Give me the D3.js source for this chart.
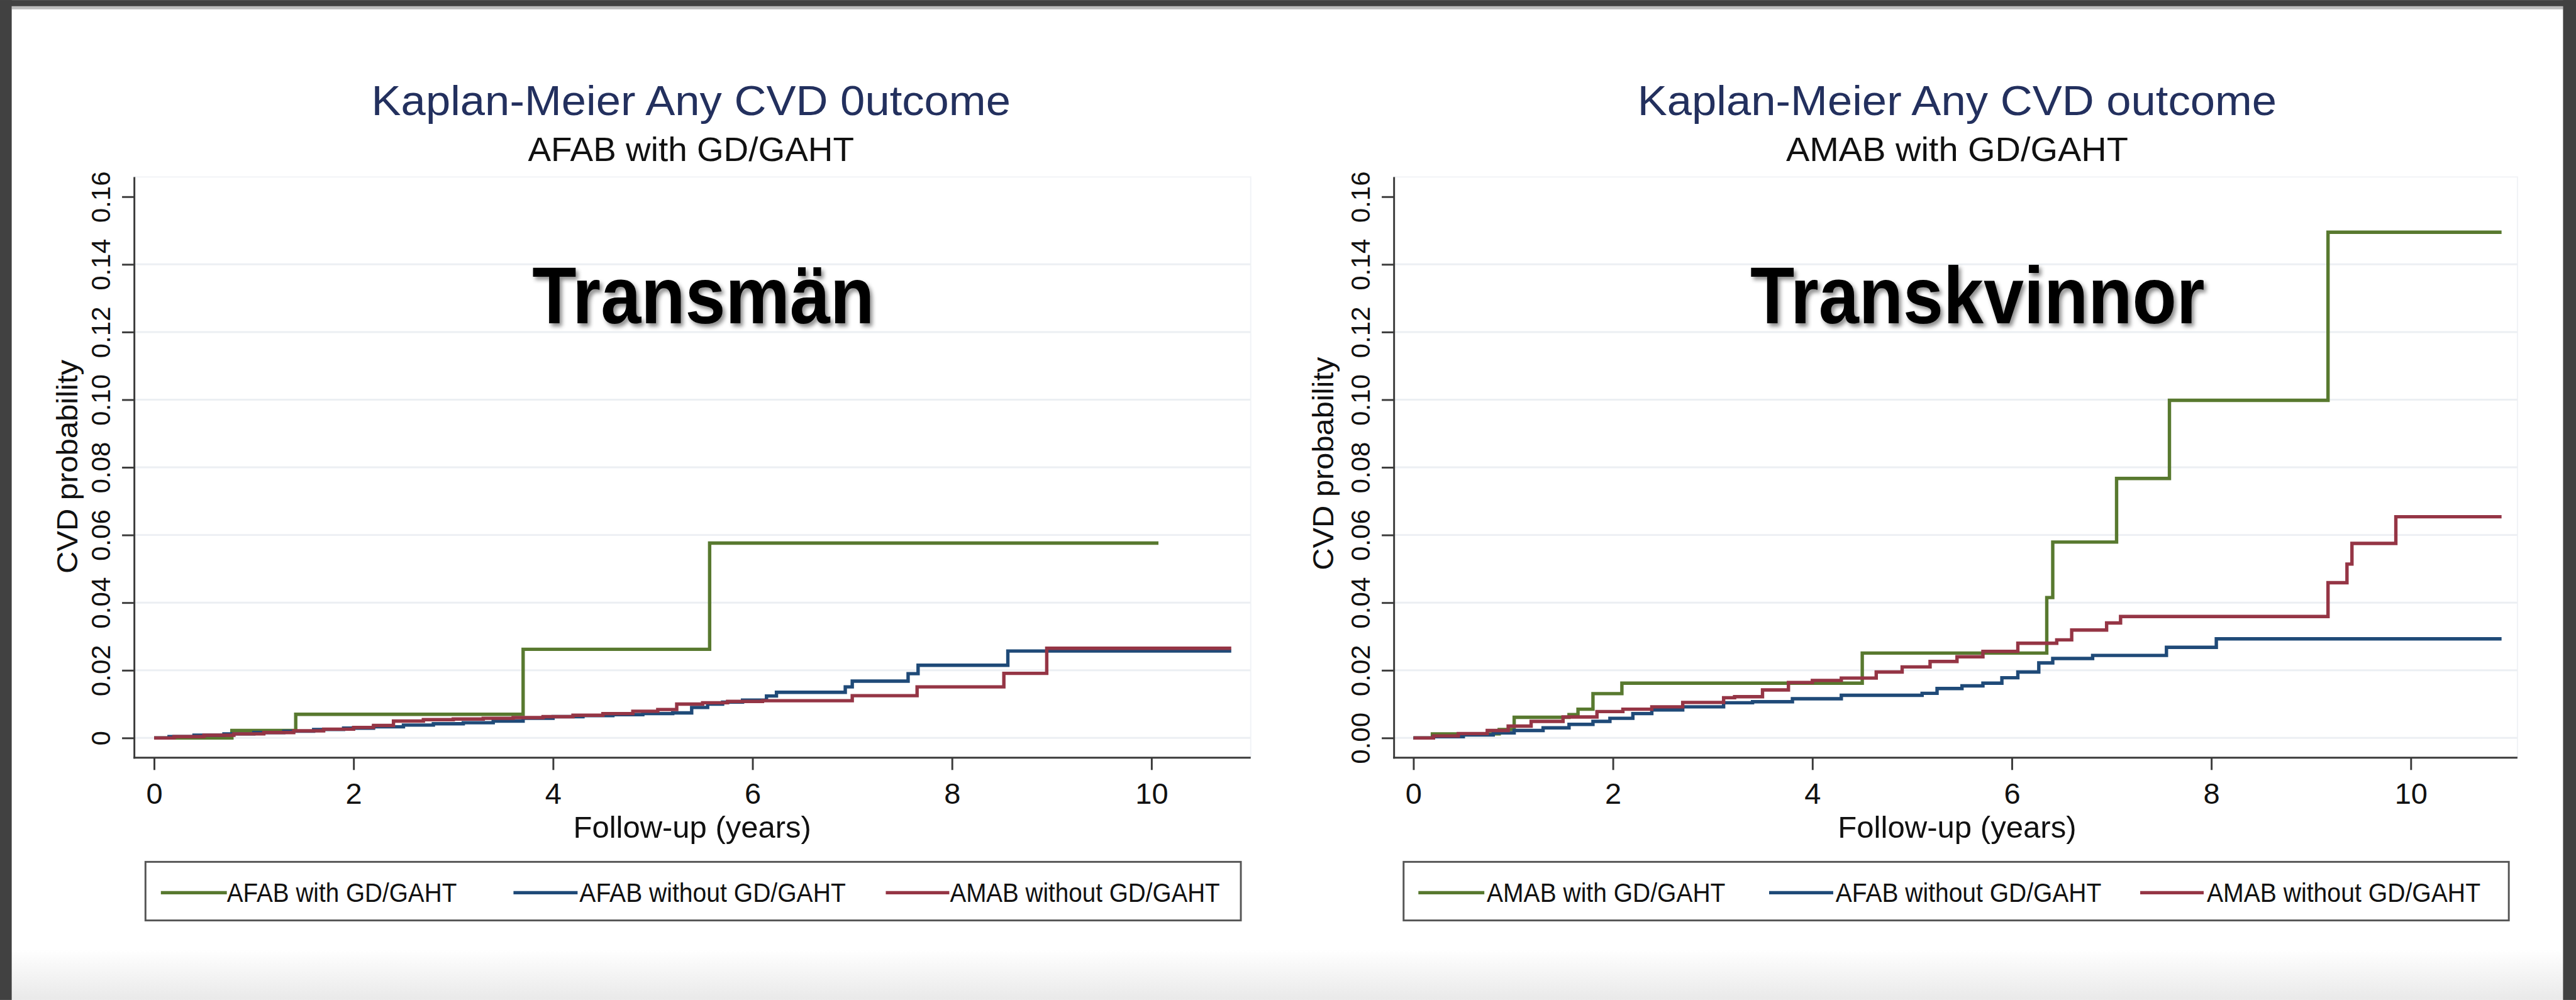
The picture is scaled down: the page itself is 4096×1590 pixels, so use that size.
<!DOCTYPE html>
<html>
<head>
<meta charset="utf-8">
<script src="https://cdn.jsdelivr.net/npm/d3@7"></script>
<style>
  html, body { margin: 0; padding: 0; background: #fff; overflow: hidden; }
  svg { display: block; }
  text { font-family: "Liberation Sans", Arial, Helvetica, sans-serif; }
</style>
</head>
<body>
<svg id="chart"></svg>
<script>
// ---------- data ----------
const yearTicks = [0, 2, 4, 6, 8, 10];
const probTicks = [0, 0.02, 0.04, 0.06, 0.08, 0.10, 0.12, 0.14, 0.16];
const probLabelsLeft  = ["0", "0.02", "0.04", "0.06", "0.08", "0.10", "0.12", "0.14", "0.16"];
const probLabelsRight = ["0.00", "0.02", "0.04", "0.06", "0.08", "0.10", "0.12", "0.14", "0.16"];

const legendLeft  = ["AFAB with GD/GAHT", "AFAB without GD/GAHT", "AMAB without GD/GAHT"];
const legendRight = ["AMAB with GD/GAHT", "AFAB without GD/GAHT", "AMAB without GD/GAHT"];
const seriesColors = ["#58792f", "#1f4a78", "#953545"];

// Transmän panel: cumulative CVD probability (Kaplan-Meier failure) by follow-up years
const afabGahtT = [0, 0.78, 1.42, 3.70, 5.57, 10.07];
const afabGahtV = [0, 0.0022, 0.0070, 0.0262, 0.0576, 0.0576];

const afabRefLT = [0, 0.15, 0.4, 0.7, 1.0, 1.3, 1.6, 1.9, 2.2, 2.5, 2.8, 3.1, 3.4, 3.7, 4.0, 4.3, 4.6, 4.9, 5.2, 5.39, 5.55, 5.7, 5.9, 6.14, 6.24, 6.93, 7.0, 7.56, 7.66, 8.56, 10.8];
const afabRefLV = [0, 0.0004, 0.0008, 0.0012, 0.0016, 0.0020, 0.0025, 0.0029, 0.0033, 0.0038, 0.0042, 0.0045, 0.0050, 0.0058, 0.0063, 0.0066, 0.0069, 0.0072, 0.0074, 0.0090, 0.0100, 0.0106, 0.0112, 0.0124, 0.0135, 0.0151, 0.0168, 0.0190, 0.0215, 0.0257, 0.0257];

const amabRefLT = [0, 0.2, 0.5, 0.8, 1.1, 1.4, 1.7, 2.0, 2.2, 2.4, 2.7, 3.0, 3.3, 3.6, 3.9, 4.2, 4.5, 4.8, 5.05, 5.24, 5.5, 5.75, 6.1, 7.0, 7.65, 8.52, 8.95, 10.8];
const amabRefLV = [0, 0.0004, 0.0008, 0.0012, 0.0016, 0.0021, 0.0026, 0.0031, 0.0037, 0.0050, 0.0054, 0.0056, 0.0058, 0.0060, 0.0063, 0.0067, 0.0072, 0.0079, 0.0084, 0.0100, 0.0104, 0.0108, 0.0110, 0.0125, 0.0151, 0.0191, 0.0265, 0.0265];

// Transkvinnor panel
const amabGahtT = [0, 0.19, 0.86, 1.01, 1.56, 1.65, 1.80, 2.09, 4.50, 6.35, 6.41, 7.05, 7.58, 9.17, 10.91];
const amabGahtV = [0, 0.0012, 0.0025, 0.0061, 0.0069, 0.0085, 0.0131, 0.0162, 0.0251, 0.0415, 0.0579, 0.0767, 0.0998, 0.1495, 0.1495];

const afabRefRT = [0, 0.2, 0.5, 0.8, 1.01, 1.3, 1.56, 1.8, 1.97, 2.2, 2.39, 2.7, 3.11, 3.4, 3.8, 4.29, 5.1, 5.25, 5.5, 5.71, 5.9, 6.06, 6.27, 6.41, 6.81, 7.55, 8.05, 10.91];
const afabRefRV = [0, 0.0004, 0.0009, 0.0015, 0.0022, 0.0030, 0.0040, 0.0049, 0.0058, 0.0072, 0.0083, 0.0092, 0.0104, 0.0107, 0.0116, 0.0126, 0.0132, 0.0146, 0.0154, 0.0162, 0.0178, 0.0195, 0.0222, 0.0235, 0.0244, 0.0268, 0.0293, 0.0293];

const amabRefRT = [0, 0.2, 0.45, 0.74, 0.95, 1.18, 1.5, 1.84, 2.1, 2.39, 2.7, 3.11, 3.22, 3.5, 3.76, 4.0, 4.29, 4.64, 4.9, 5.18, 5.45, 5.71, 6.06, 6.45, 6.6, 6.95, 7.09, 9.17, 9.36, 9.41, 9.85, 10.91];
const amabRefRV = [0, 0.0006, 0.0013, 0.0022, 0.0035, 0.0049, 0.0062, 0.0078, 0.0085, 0.0092, 0.0105, 0.0119, 0.0122, 0.0142, 0.0164, 0.0170, 0.0177, 0.0195, 0.0210, 0.0226, 0.0240, 0.0256, 0.0280, 0.0290, 0.0319, 0.0340, 0.0359, 0.0459, 0.0514, 0.0575, 0.0654, 0.0654];

// ---------- canvas ----------
const W = 4179, H = 1622;
const svg = d3.select("#chart")
  .attr("width", 4096).attr("height", 1590)
  .attr("viewBox", `0 0 ${W} ${H}`);

const defs = svg.append("defs");
const shadow = defs.append("filter").attr("id", "bigShadow")
  .attr("x", "-10%").attr("y", "-20%").attr("width", "130%").attr("height", "150%");
shadow.append("feDropShadow").attr("dx", 4).attr("dy", 5).attr("stdDeviation", 3)
  .attr("flood-color", "#000").attr("flood-opacity", 0.45);

const fade = defs.append("linearGradient").attr("id", "floor").attr("x1", 0).attr("y1", 0).attr("x2", 0).attr("y2", 1);
fade.append("stop").attr("offset", "0%").attr("stop-color", "#ffffff");
fade.append("stop").attr("offset", "100%").attr("stop-color", "#e9e9e9");

// page backdrop and frame
svg.append("rect").attr("width", W).attr("height", H).attr("fill", "#fff");
svg.append("rect").attr("x", 0).attr("y", 1540).attr("width", W).attr("height", H - 1540).attr("fill", "url(#floor)");
svg.append("rect").attr("x", 0).attr("y", 0).attr("width", W).attr("height", 10).attr("fill", "#414141");
svg.append("rect").attr("x", 19).attr("y", 10).attr("width", W - 40).attr("height", 5).attr("fill", "#bdbdbd");
svg.append("rect").attr("x", 0).attr("y", 0).attr("width", 19).attr("height", H).attr("fill", "#414141");
svg.append("rect").attr("x", W - 21).attr("y", 0).attr("width", 21).attr("height", H).attr("fill", "#414141");

// ---------- panels ----------
const panels = [
  {
    axisX: 218, x0: 250, x10: 1868, right: 2029,
    title: "Kaplan-Meier Any CVD 0utcome", titleCx: 1121, titleLen: 1037,
    subtitle: "AFAB with GD/GAHT", subLen: 529,
    big: "Transmän", bigCx: 1141, bigLen: 555,
    xlabCx: 1123, xlabLen: 386,
    ytitleBase: 125, ytitleCy: 757, ytitleLen: 347,
    probLabels: probLabelsLeft,
    series: [[afabGahtT, afabGahtV], [afabRefLT, afabRefLV], [amabRefLT, amabRefLV]],
    legendLabels: legendLeft,
    legendBox: [236, 2013],
    legendItems: [[261, 368, 368, 373], [833, 937, 940, 432], [1437, 1540, 1541, 438]]
  },
  {
    axisX: 2261.6, x0: 2293, x10: 3911, right: 4084,
    title: "Kaplan-Meier Any CVD outcome", titleCx: 3175, titleLen: 1037,
    subtitle: "AMAB with GD/GAHT", subLen: 555,
    big: "Transkvinnor", bigCx: 3208, bigLen: 737,
    xlabCx: 3175, xlabLen: 387,
    ytitleBase: 2163, ytitleCy: 752, ytitleLen: 346,
    probLabels: probLabelsRight,
    series: [[amabGahtT, amabGahtV], [afabRefRT, afabRefRV], [amabRefRT, amabRefRV]],
    legendLabels: legendRight,
    legendBox: [2277, 4070],
    legendItems: [[2301, 2408, 2412, 387], [2870, 2974, 2978, 431], [3472, 3575, 3580, 444]]
  }
];

const plotTop = 287, plotBottom = 1229;
const y = d3.scaleLinear().domain([0, 0.16]).range([1197, 319]);

panels.forEach(p => {
  const g = svg.append("g");
  const x = d3.scaleLinear().domain([0, 10]).range([p.x0, p.x10]);

  // plot region outline (very light) and grid
  g.append("rect").attr("x", p.axisX).attr("y", plotTop)
    .attr("width", p.right - p.axisX).attr("height", plotBottom - plotTop)
    .attr("fill", "none").attr("stroke", "#f1f3f6").attr("stroke-width", 2);
  g.append("g").selectAll("line").data(probTicks.filter(v => v < 0.16)).join("line")
    .attr("x1", p.axisX).attr("x2", p.right)
    .attr("y1", d => y(d)).attr("y2", d => y(d))
    .attr("stroke", "#eceff3").attr("stroke-width", 3);

  // x axis
  const xa = g.append("g").attr("transform", `translate(0,${plotBottom})`)
    .call(d3.axisBottom(x).tickValues(yearTicks).tickSize(20).tickSizeOuter(0).tickPadding(21)
      .tickFormat(d3.format("d")));
  xa.select(".domain").remove();
  xa.selectAll(".tick line").attr("stroke", "#3a3a3a").attr("stroke-width", 3);
  xa.selectAll(".tick text").attr("font-size", 48).attr("fill", "#111").attr("dy", "0.71em");

  // y axis with rotated tick labels
  const ya = g.append("g").attr("transform", `translate(${p.axisX},0)`)
    .call(d3.axisLeft(y).tickValues(probTicks).tickSize(20).tickSizeOuter(0)
      .tickFormat((d, i) => p.probLabels[i]));
  ya.select(".domain").remove();
  ya.selectAll(".tick line").attr("stroke", "#3a3a3a").attr("stroke-width", 3);
  ya.selectAll(".tick text")
    .attr("x", null).attr("dy", null)
    .attr("transform", "translate(-39,0) rotate(-90)")
    .attr("text-anchor", "middle")
    .attr("font-size", 43).attr("fill", "#111");

  // axis lines
  g.append("line").attr("x1", p.axisX).attr("x2", p.axisX).attr("y1", plotTop).attr("y2", plotBottom + 1.5)
    .attr("stroke", "#3a3a3a").attr("stroke-width", 3);
  g.append("line").attr("x1", p.axisX - 1.5).attr("x2", p.right).attr("y1", plotBottom).attr("y2", plotBottom)
    .attr("stroke", "#3a3a3a").attr("stroke-width", 3);

  // step curves
  const line = d3.line().x(d => x(d[0])).y(d => y(d[1])).curve(d3.curveStepAfter);
  p.series.forEach((s, i) => {
    g.append("path").datum(d3.zip(s[0], s[1]))
      .attr("d", line).attr("fill", "none")
      .attr("stroke", seriesColors[i]).attr("stroke-width", 5.5)
      .attr("stroke-linejoin", "miter");
  });

  // titles
  g.append("text").attr("x", p.titleCx).attr("y", 187).attr("text-anchor", "middle")
    .attr("font-size", 68).attr("fill", "#23305e")
    .attr("textLength", p.titleLen).attr("lengthAdjust", "spacingAndGlyphs")
    .text(p.title);
  g.append("text").attr("x", p.titleCx).attr("y", 261).attr("text-anchor", "middle")
    .attr("font-size", 55).attr("fill", "#111")
    .attr("textLength", p.subLen).attr("lengthAdjust", "spacingAndGlyphs")
    .text(p.subtitle);

  // big overlay label
  g.append("text").attr("x", p.bigCx).attr("y", 524).attr("text-anchor", "middle")
    .attr("font-size", 130).attr("font-weight", "bold").attr("fill", "#000")
    .attr("filter", "url(#bigShadow)")
    .attr("textLength", p.bigLen).attr("lengthAdjust", "spacingAndGlyphs")
    .text(p.big);

  // axis titles
  g.append("text").attr("x", p.xlabCx).attr("y", 1359).attr("text-anchor", "middle")
    .attr("font-size", 50).attr("fill", "#111")
    .attr("textLength", p.xlabLen).attr("lengthAdjust", "spacingAndGlyphs")
    .text("Follow-up (years)");
  g.append("text")
    .attr("transform", `translate(${p.ytitleBase},${p.ytitleCy}) rotate(-90)`)
    .attr("text-anchor", "middle")
    .attr("font-size", 47).attr("fill", "#111")
    .attr("textLength", p.ytitleLen).attr("lengthAdjust", "spacingAndGlyphs")
    .text("CVD probability");

  // legend
  g.append("rect").attr("x", p.legendBox[0]).attr("y", 1398)
    .attr("width", p.legendBox[1] - p.legendBox[0]).attr("height", 95)
    .attr("fill", "#fff").attr("stroke", "#555").attr("stroke-width", 3);
  p.legendItems.forEach((it, i) => {
    g.append("line").attr("x1", it[0]).attr("x2", it[1]).attr("y1", 1448).attr("y2", 1448)
      .attr("stroke", seriesColors[i]).attr("stroke-width", 5.5);
    g.append("text").attr("x", it[2]).attr("y", 1463)
      .attr("font-size", 43).attr("fill", "#111")
      .attr("textLength", it[3]).attr("lengthAdjust", "spacingAndGlyphs")
      .text(p.legendLabels[i]);
  });
});
</script>
</body>
</html>
